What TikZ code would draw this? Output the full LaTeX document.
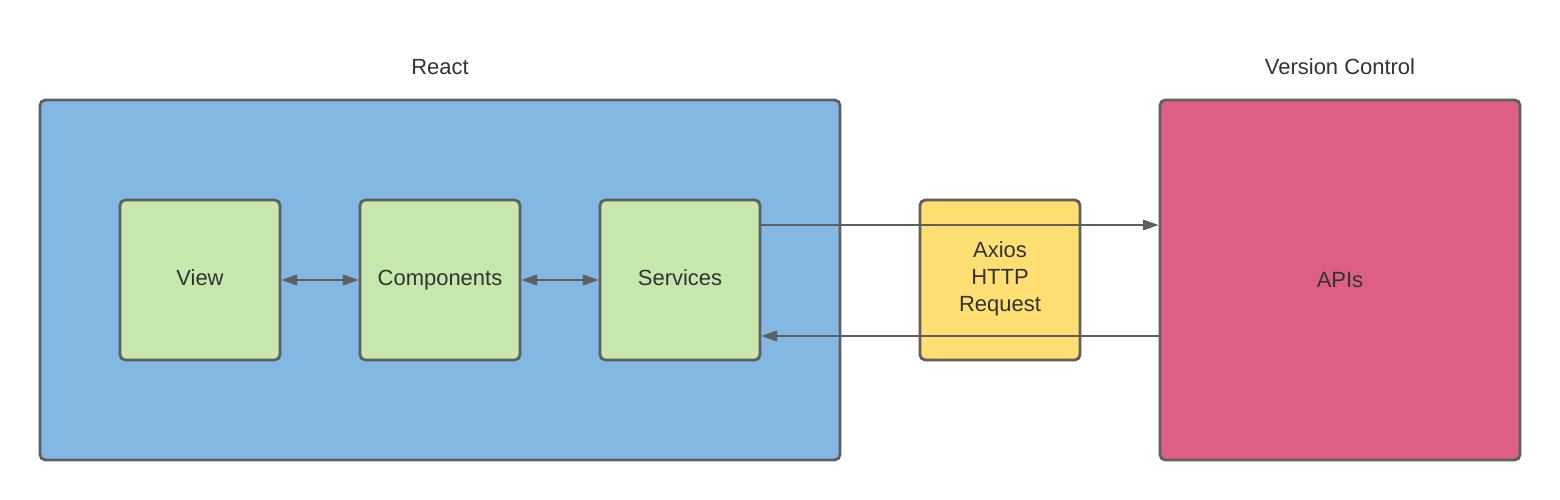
\documentclass[tikz,border=0pt]{standalone}
\usepackage{fontspec}
\setmainfont{Liberation Sans}
\usetikzlibrary{arrows.meta}
\definecolor{edge}{HTML}{5F5F5F}
\definecolor{reactblue}{HTML}{83B8E3}
\definecolor{leafgreen}{HTML}{C7E8AC}
\definecolor{axiosyellow}{HTML}{FFDF71}
\definecolor{apipink}{HTML}{DD5F83}
\definecolor{txt}{HTML}{333333}
\begin{document}
\begin{tikzpicture}[x=0.02cm,y=-0.02cm,
  box/.style={draw=edge,line width=1.6pt,rounded corners=3pt,text=txt,align=center,
    font=\fontsize{12.5}{15.3}\selectfont},
  small/.style={box,minimum width=3.2cm,minimum height=3.2cm},
  leaf/.style={small,fill=leafgreen,text height=8pt,text depth=2.3pt},
  big/.style={box,minimum width=7.2cm,minimum height=7.2cm},
  label/.style={text=txt,font=\fontsize{12.5}{15.3}\selectfont},
  flow/.style={draw=edge,line width=1.1pt,-{Triangle[length=9pt,width=6pt]}},
  both/.style={flow,{Triangle[length=9pt,width=6pt]}-{Triangle[length=9pt,width=6pt]}}]
\useasboundingbox (0,0) rectangle (1560,500);

\node[box,fill=reactblue,minimum width=16cm,minimum height=7.2cm] (react) at (440,280) {};
\node[label] (reactname) at (440,67) {React};
\node[big,fill=apipink] (apis) at (1340,280) {APIs};
\node[label] (vcname) at (1340,67) {Version Control};

\node[leaf] (view) at (200,280) {View};
\node[leaf] (comp) at (440,280) {Components};
\node[leaf] (serv) at (680,280) {Services};
\node[small,fill=axiosyellow] (axios) at (1000,280) {Axios\\HTTP\\Request\\[-11pt]};

\draw[both] (view) -- (comp);
\draw[both] (comp) -- (serv);
\draw[flow] ([yshift=1.1cm]serv.east) -- ([yshift=1.1cm]serv.east -| apis.west);
\draw[flow] ([yshift=-1.12cm]serv.east -| apis.west) -- ([yshift=-1.12cm]serv.east);
\end{tikzpicture}
\end{document}
